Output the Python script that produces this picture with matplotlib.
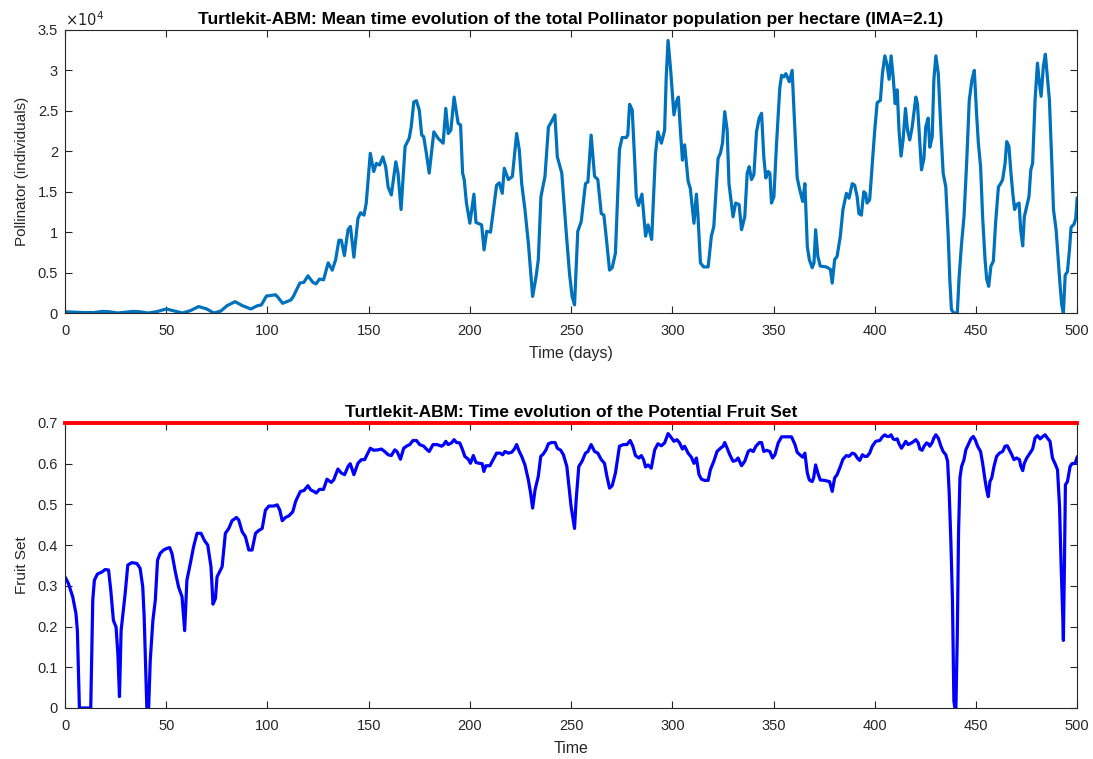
import numpy as np
import matplotlib.pyplot as plt

plt.rcParams['font.family'] = ['Liberation Sans', 'DejaVu Sans']

# ------------------------------ dane ------------------------------

# populacja zapylaczy (osobniki / ha)
poll_days = [0, 5, 10, 14, 18.6, 22, 26, 30, 33.6, 37, 41, 45, 50, 54, 58, 62, 66, 70, 73.5, 77,
             80, 84, 87.7, 91.8, 95, 97, 99.5, 104, 105, 107.5, 111.5, 112.7, 116, 118, 120, 122.4,
             124, 125.7, 127.7, 130, 132, 133.7, 135.3, 136.5, 138, 139.8, 141, 142.7, 144.7, 146,
             147.7, 148.8, 150.8, 152.5, 153.8, 155.4, 157, 158.4, 159.6, 161.2, 163.4, 164.5, 166,
             168, 170, 171, 172.3, 173.6, 175, 176.2, 177.2, 178.5, 179.9, 182.2, 184.3, 186.8, 188.1,
             189.3, 190.6, 192.2, 194.2, 195.4, 196.4, 197.2, 198.3, 200, 202, 203, 205.8, 207, 208.3,
             210.2, 213.2, 214.5, 216, 217, 219, 221, 223.1, 224.4, 225.6, 227.2, 228.9, 231, 232.7,
             233.8, 235.1, 237.1, 238.8, 240.4, 242, 243.2, 245.4, 247.5, 249.2, 250.5, 251.7, 253.3,
             255, 257.1, 258.3, 259.9, 261.6, 263.2, 264.9, 266.2, 267.3, 269, 270.3, 271.9, 273.9,
             275.2, 277.2, 278, 278.9, 280.2, 281.4, 282.2, 283.3, 285, 286.8, 288, 289.8, 291.7,
             292.9, 294.6, 296.2, 297, 297.9, 299.2, 300.8, 302, 303, 304, 305, 306.1, 307.8, 308.9,
             310.7, 311.9, 312.7, 313.9, 315.5, 317.7, 319.3, 320.5, 322.6, 323.8, 324.8, 325.9, 327.1,
             328, 330, 331.3, 333, 334.2, 335.8, 337, 338, 339.1, 340.3, 341.6, 342.9, 344.1, 345.2,
             346.2, 347.4, 348.2, 349, 350.2, 351.5, 353.1, 354, 355.1, 356.1, 357.8, 359.2, 360.1,
             361.7, 363, 364.4, 365.5, 366.7, 367.7, 369.1, 370, 370.8, 371.9, 373.1, 376.1, 378.1,
             379, 380.2, 381.4, 383, 384.3, 386, 387.3, 388.9, 390.1, 391.3, 392.2, 393.4, 394.6,
             395.5, 396.2, 397.5, 398.8, 400, 401.2, 402.8, 403.8, 405, 406.1, 407.1, 408.1, 409.1,
             410.1, 411.1, 412, 413, 414, 415.2, 416.2, 417.3, 418.5, 420.3, 421.1, 422.3, 423.1,
             424.3, 425.2, 426.4, 427.2, 428.4, 429.2, 430.2, 431.4, 432.7, 433.8, 435.1, 436.3,
             437.1, 437.9, 439.1, 440.8, 441.7, 442.9, 444.1, 445.4, 446.7, 448, 449.2, 450.3, 451.2,
             452.3, 453.3, 454.5, 455.3, 456.3, 457.4, 458.6, 459.7, 461.1, 462.2, 463.2, 464.4,
             465.2, 466.3, 467.3, 468.2, 469.1, 470.1, 471.3, 472.1, 473.1, 473.9, 475.1, 476.2,
             477.1, 478, 479.2, 480.4, 481.2, 482.2, 483.3, 484.3, 485.3, 486.3, 487.5, 488.3, 489.6,
             490.8, 491.6, 492.4, 493.2, 494.1, 495.2, 496.2, 497, 498.5, 499.3, 500]
poll_values = [150, 100, 50, 50, 200, 150, 0, 100, 200, 150, 0, 150, 500, 250, 0, 300, 800, 500, 0, 250,
               900, 1400, 900, 500, 900, 1000, 2100, 2250, 2000, 1200, 1600, 2000, 3700, 3800, 4600, 3800,
               3600, 4200, 4100, 6200, 5300, 6600, 9000, 9000, 7100, 10300, 10700, 6900, 11700, 12400,
               12100, 13600, 19750, 17500, 18500, 18300, 19300, 18100, 15600, 14600, 18700, 17300, 12800,
               20600, 21600, 23000, 26100, 26250, 25100, 22000, 21800, 19750, 17300, 22400, 21600, 21000, 25300,
               22200, 22600, 26700, 23450, 23250, 17300, 16500, 13600, 11100, 14700, 11200, 10900, 7800, 10100,
               10000, 15800, 16100, 14800, 17900, 16500, 16900, 22200, 20200, 16000, 12800, 8600, 2050, 4500,
               6600, 14400, 16900, 23000, 23700, 24500, 19300, 17300, 10300, 4900, 2050, 1000, 10100,
               11300, 16000, 16200, 22000, 16900, 16500, 12300, 12100, 9500, 5300, 5600, 7400, 20200,
               21700, 21700, 22000, 25800, 25100, 18900, 14400, 13300, 14700, 9500, 10900, 9100, 19750,
               22400, 21000, 22600, 29200, 33700, 30000, 24500, 26100, 26700, 22600, 18900, 20800, 16300, 15400,
               11100, 14700, 11900, 6200, 5700, 5700, 9500, 10700, 19100, 19800, 21000, 24900, 22600,
               16000, 11900, 13600, 13400, 10300, 11900, 17300, 18100, 16500, 17100, 22400, 24100, 24700, 19300,
               16700, 17500, 17300, 13600, 14400, 21000, 27800, 29400, 29200, 29600, 28600, 30000, 25100,
               16700, 15200, 13800, 16000, 8200, 6600, 5600, 6200, 10300, 7000, 5800, 5700, 5400,
               3700, 6600, 7000, 9500, 12800, 14800, 14200, 16000, 15800, 14400, 12300, 12100, 15000,
               14800, 13600, 14000, 18500, 22600, 26000, 26300, 29600, 31800, 30700, 28900, 31800, 29200,
               25900, 27600, 22600, 19400, 21400, 25300, 22600, 21400, 23000, 26700, 25900, 21000, 17700,
               19100, 23000, 24100, 20500, 21800, 28800, 31800, 29600, 22600, 17300, 15600, 9500,
               4100, 400, 0, 0, 4500, 8600, 11900, 18500, 26300, 28800, 30000, 24700, 21000,
               18100, 11900, 6600, 4200, 3300, 5800, 6400, 11100, 15600, 16000, 16500, 18500,
               21200, 20600, 17300, 14800, 12800, 13400, 13600, 10300, 8300, 11900, 13200, 14400,
               17700, 18500, 26300, 30900, 28800, 26800, 30500, 32000, 29200, 26300, 18500, 12800, 10300,
               6200, 3300, 1000, 0, 4700, 5100, 7800, 10600, 11000, 11700, 14200]

# potencjalne zawiazanie owocow
fruit_days = [0, 1.65, 3.8, 5.4, 6.1, 7.1, 12.7, 13.7, 14.5, 16, 18.2, 19.8, 21.5, 22.6, 23.9, 25.2,
              26.1, 26.9, 27.7, 29.7, 31, 33, 35.5, 37.1, 38.4, 39.1, 39.8, 40.4, 41.3, 42.1, 43.4,
              44.6, 45.7, 47, 48.7, 50.3, 51.7, 52.8, 54.5, 56.1, 57.8, 59.1, 60.2, 61.9, 63.5, 65.2,
              67.2, 68.8, 70.5, 72.1, 73.1, 74.3, 75.1, 77.6, 79.2, 80.9, 82.5, 84.7, 85.8, 87.5,
              89.1, 90.8, 92.4, 94.1, 95.7, 97.4, 99, 100.7, 103.1, 104.8, 106.1, 107.3, 108.9, 110.6,
              112.5, 113.9, 115, 116.3, 118, 120, 121.3, 122.9, 124.1, 125.7, 127.7, 129.4, 131.5,
              132.7, 134.8, 136.5, 138.1, 139.8, 140.9, 142.7, 144.7, 146.4, 148, 149.2, 150.8, 152.5,
              154.6, 156.3, 157.9, 159.6, 161.2, 162.9, 164, 165.7, 167.3, 169, 170.3, 171.9, 173.6,
              175.2, 177.2, 178.9, 179.9, 181.8, 183.8, 186, 187.1, 188.1, 189.3, 190.9, 192.2, 193.4,
              195, 196.4, 197.5, 199.2, 200.3, 201.7, 203, 204.6, 206.1, 206.9, 207.9, 209.9, 211.9,
              213.2, 214.9, 216.2, 217.3, 219, 220.6, 222, 223.1, 224.4, 225.6, 227.2, 228.9, 230,
              231, 232.2, 233.8, 235, 236.3, 237.6, 238.8, 240.4, 242.1, 243.2, 244.9, 246.2, 247.9,
              248.8, 250, 251.7, 252.5, 253.8, 255.4, 257.1, 258.3, 259.9, 261.6, 263.2, 264.9, 266.5,
              267.7, 269, 270.3, 271.9, 273.9, 275.9, 277.6, 279.2, 280.5, 281.8, 283.5, 284.7, 285.8,
              286.8, 288, 289.6, 291.3, 292.9, 294.6, 296.2, 297.9, 299.2, 300.8, 302.3, 303.6, 305,
              306.1, 307.8, 309.4, 310.7, 311.9, 313.2, 314.4, 316, 317.7, 318.8, 320.5, 322.1, 323.8,
              325.1, 325.9, 327.1, 328.4, 330, 331.4, 332.5, 334.2, 335.8, 337.5, 338.6, 340, 341.3,
              343, 344.1, 345.2, 346.5, 348.2, 349.5, 350.7, 352.3, 354, 356.1, 358.9, 360.6, 361.7,
              363, 364.4, 365.5, 366.7, 367.7, 369.1, 369.8, 370.8, 371.9, 373.1, 375.2, 377.7, 379,
              380.2, 381.4, 383, 384.3, 386, 387.3, 388.9, 390.1, 391.4, 392.6, 393.9, 395, 396.2,
              397.5, 398.8, 400.5, 402.5, 403.8, 405, 406.1, 407.1, 408.1, 409.1, 410.1, 411.1, 412,
              413.2, 414.4, 415.3, 416.5, 418.2, 419.3, 420.3, 421.5, 422.3, 423.4, 424.4, 425.6,
              426.4, 427.2, 428.4, 429.2, 430.2, 431.4, 432.7, 433.8, 435.1, 436, 436.8, 437.6, 438.4,
              439.1, 439.6, 440.1, 440.8, 441.4, 442.1, 442.9, 444.1, 445, 446.2, 447.5, 448.7, 449.8,
              450.8, 452.3, 453.3, 454.5, 455.3, 456.1, 456.9, 457.8, 458.9, 460.2, 461.6, 463.2,
              464.4, 465.5, 466.5, 467.7, 468.8, 470.1, 471.5, 472.1, 473.1, 473.9, 475.1, 476.7, 478,
              479.2, 480.4, 481.7, 482.8, 484.2, 485.3, 486.6, 487.8, 489.1, 490.3, 491.3, 492.1,
              492.9, 493.2, 493.7, 494.2, 495.2, 496.5, 497.4, 499, 500]
fruit_values = [0.322, 0.306, 0.273, 0.232, 0.19, 0, 0, 0.265, 0.314, 0.329, 0.334, 0.34, 0.339, 0.289,
                0.215, 0.199, 0.133, 0.028, 0.19, 0.281, 0.351, 0.357, 0.355, 0.343, 0.297, 0.223, 0.1,
                0.002, 0, 0.117, 0.215, 0.265, 0.363, 0.38, 0.388, 0.392, 0.394, 0.38, 0.334, 0.297,
                0.273, 0.19, 0.314, 0.355, 0.396, 0.429, 0.429, 0.412, 0.4, 0.347, 0.255, 0.269, 0.322,
                0.347, 0.429, 0.441, 0.46, 0.468, 0.462, 0.433, 0.421, 0.388, 0.388, 0.429, 0.436, 0.441,
                0.486, 0.496, 0.496, 0.499, 0.486, 0.46, 0.468, 0.472, 0.482, 0.507, 0.519, 0.532, 0.534,
                0.546, 0.536, 0.532, 0.528, 0.537, 0.537, 0.562, 0.554, 0.56, 0.587, 0.577, 0.573, 0.593,
                0.6, 0.573, 0.601, 0.61, 0.61, 0.622, 0.638, 0.633, 0.634, 0.636, 0.63, 0.622, 0.62,
                0.634, 0.63, 0.611, 0.638, 0.644, 0.647, 0.657, 0.657, 0.647, 0.643, 0.634, 0.63, 0.647,
                0.647, 0.643, 0.647, 0.655, 0.647, 0.651, 0.659, 0.652, 0.651, 0.634, 0.618, 0.611,
                0.601, 0.62, 0.603, 0.601, 0.6, 0.581, 0.595, 0.595, 0.614, 0.626, 0.626, 0.622, 0.63,
                0.626, 0.628, 0.636, 0.647, 0.63, 0.618, 0.597, 0.56, 0.528, 0.491, 0.536, 0.569, 0.618,
                0.624, 0.634, 0.649, 0.652, 0.652, 0.638, 0.633, 0.622, 0.593, 0.552, 0.495, 0.441,
                0.511, 0.593, 0.606, 0.626, 0.63, 0.647, 0.63, 0.626, 0.61, 0.601, 0.569, 0.54, 0.546,
                0.577, 0.643, 0.647, 0.647, 0.657, 0.643, 0.62, 0.614, 0.62, 0.61, 0.592, 0.597, 0.589,
                0.634, 0.649, 0.644, 0.651, 0.674, 0.666, 0.655, 0.659, 0.651, 0.636, 0.643, 0.626,
                0.616, 0.601, 0.614, 0.573, 0.562, 0.559, 0.559, 0.585, 0.606, 0.63, 0.638, 0.643,
                0.652, 0.638, 0.622, 0.606, 0.608, 0.614, 0.595, 0.606, 0.63, 0.634, 0.63, 0.643, 0.652,
                0.652, 0.63, 0.633, 0.63, 0.614, 0.622, 0.651, 0.666, 0.666, 0.666, 0.647, 0.628, 0.622,
                0.616, 0.626, 0.577, 0.56, 0.556, 0.565, 0.597, 0.577, 0.56, 0.559, 0.556, 0.532, 0.565,
                0.573, 0.593, 0.611, 0.62, 0.618, 0.626, 0.624, 0.614, 0.608, 0.622, 0.618, 0.618, 0.626,
                0.643, 0.655, 0.657, 0.666, 0.671, 0.667, 0.667, 0.671, 0.661, 0.659, 0.661, 0.649,
                0.638, 0.647, 0.655, 0.647, 0.651, 0.655, 0.659, 0.651, 0.636, 0.633, 0.643, 0.651,
                0.649, 0.643, 0.652, 0.663, 0.671, 0.663, 0.643, 0.63, 0.622, 0.606, 0.527, 0.412, 0.265,
                0.018, 0, 0, 0.182, 0.429, 0.565, 0.593, 0.61, 0.634, 0.647, 0.661, 0.667, 0.657,
                0.643, 0.63, 0.601, 0.56, 0.536, 0.519, 0.556, 0.565, 0.593, 0.618, 0.626, 0.63,
                0.643, 0.644, 0.634, 0.622, 0.61, 0.614, 0.61, 0.595, 0.583, 0.601, 0.614, 0.626, 0.636,
                0.663, 0.669, 0.661, 0.666, 0.671, 0.663, 0.655, 0.614, 0.6, 0.585, 0.495, 0.347,
                0.223, 0.166, 0.347, 0.548, 0.556, 0.593, 0.6, 0.601, 0.616]

fruit_max = 0.7

# ------------------------------ styl jak w MATLAB-ie ------------------------------


def matlab_axes(ax):
    for side in ax.spines.values():
        side.set_color('#262626')
        side.set_linewidth(0.8)
    ax.tick_params(axis='both', direction='in', top=True, right=True, length=5, width=0.8,
                   colors='#262626', labelsize=10.5)
    ax.tick_params(axis='x', pad=8)
    ax.tick_params(axis='y', pad=5)


fig = plt.figure(figsize=(10.93, 7.59), dpi=100)

# ------------------------------ wykres 1 ------------------------------

ax1 = fig.add_axes([0.0595, 0.5876, 0.926, 0.3729])
ax1.plot(poll_days, poll_values, color=(0, 0.447, 0.741), linewidth=2.3)
ax1.set_xlim(0, 500)
ax1.set_ylim(0, 35000)
ax1.set_xticks(np.arange(0, 501, 50))
yt = np.arange(0, 35001, 5000)
ax1.set_yticks(yt)
ax1.set_yticklabels(['%g' % (v / 1e4) for v in yt])
ax1.text(0.0, 1.005, r'$\times10^{4}$', transform=ax1.transAxes, fontsize=10.5,
         ha='left', va='bottom', color='#262626')
ax1.set_xlabel('Time (days)', fontsize=11.5, color='#262626', labelpad=6)
ax1.set_ylabel('Pollinator (individuals)', fontsize=11, color='#262626', labelpad=6)
ax1.set_title('Turtlekit-ABM: Mean time evolution of the total Pollinator population per hectare (IMA=2.1)',
              fontsize=12.5, fontweight='bold', pad=4)
matlab_axes(ax1)

# ------------------------------ wykres 2 ------------------------------

ax2 = fig.add_axes([0.0595, 0.0672, 0.926, 0.3755])
ax2.plot(fruit_days, fruit_values, color='blue', linewidth=2.3)
ax2.axhline(fruit_max, color='red', linewidth=2.8, clip_on=False, zorder=5)
ax2.set_xlim(0, 500)
ax2.set_ylim(0, 0.7)
ax2.set_xticks(np.arange(0, 501, 50))
yt2 = np.round(np.arange(0, 0.71, 0.1), 1)
ax2.set_yticks(yt2)
ax2.set_yticklabels(['%g' % v for v in yt2])
ax2.set_xlabel('Time', fontsize=11.5, color='#262626', labelpad=6)
ax2.set_ylabel('Fruit Set', fontsize=11, color='#262626', labelpad=6)
ax2.set_title('Turtlekit-ABM: Time evolution of the Potential Fruit Set',
              fontsize=12.5, fontweight='bold', pad=4)
matlab_axes(ax2)

fig.savefig('out.png', dpi=100, facecolor='white')
